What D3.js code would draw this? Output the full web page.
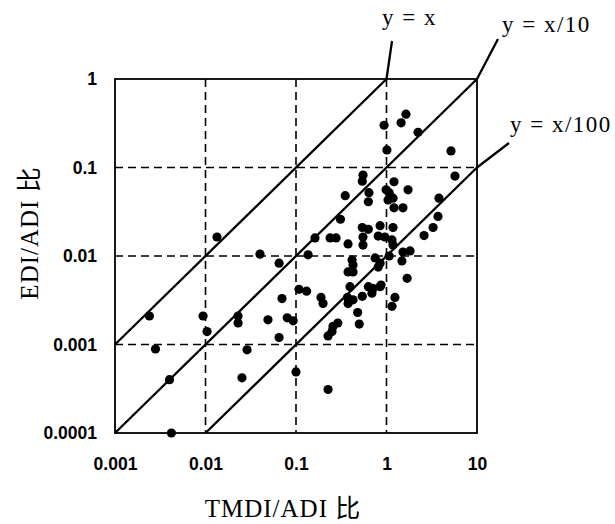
<!DOCTYPE html>
<html>
<head>
<meta charset="utf-8">
<script src="https://cdn.jsdelivr.net/npm/d3@7"></script>
<style>
  body { margin: 0; background: #fff; }
  svg { display: block; }
</style>
</head>
<body>
<div id="chart"></div>
<script>
// TMDI/ADI ratio (x) vs EDI/ADI ratio (y)
const tmdi = [
  1.64, 1.45, 0.94, 2.23, 1.01, 5.16, 5.71, 0.55, 0.54, 1.21,
  1.73, 0.35, 0.64, 0.63, 0.99, 1.07, 1.04, 1.18, 1.21, 1.52,
  3.80, 0.31, 3.71, 3.27, 2.60, 0.54, 0.63, 0.55, 0.85, 1.18,
  0.81, 0.96, 1.15, 1.18, 0.162, 0.238, 0.277, 0.376, 0.55, 0.0134,
  0.040, 0.136, 0.065, 0.416, 0.427, 0.376, 0.427, 0.75, 0.85, 1.07,
  1.52, 1.82, 1.48, 0.81, 1.69, 0.87, 0.108, 0.131, 0.395, 0.63,
  0.71, 0.85, 0.070, 0.189, 0.199, 0.37, 0.427, 0.54, 0.376, 0.69,
  1.24, 1.15, 0.48, 0.50, 0.29, 0.256, 0.25, 0.226, 0.0024, 0.0094,
  0.0104, 0.0229, 0.0229, 0.049, 0.080, 0.093, 0.065, 0.0028, 0.0288, 0.0040,
  0.0253, 0.100, 0.226, 0.0042
];
const edi = [
  0.40, 0.32, 0.30, 0.25, 0.158, 0.154, 0.080, 0.082, 0.070, 0.069,
  0.056, 0.048, 0.052, 0.041, 0.056, 0.052, 0.043, 0.045, 0.035, 0.035,
  0.045, 0.026, 0.028, 0.021, 0.017, 0.021, 0.020, 0.0164, 0.022, 0.021,
  0.0168, 0.0164, 0.0152, 0.0133, 0.0160, 0.0160, 0.0160, 0.0137, 0.0133, 0.0164,
  0.0105, 0.0103, 0.0083, 0.0090, 0.0079, 0.0066, 0.0066, 0.0095, 0.0083, 0.0100,
  0.0111, 0.0114, 0.0088, 0.0075, 0.0056, 0.0047, 0.0042, 0.0040, 0.0045, 0.0045,
  0.0043, 0.0045, 0.0033, 0.0034, 0.0029, 0.0034, 0.0032, 0.0035, 0.0029, 0.0038,
  0.0034, 0.0027, 0.0023, 0.0017, 0.00175, 0.0016, 0.0014, 0.00125, 0.0021, 0.0021,
  0.0014, 0.0021, 0.00175, 0.0019, 0.0020, 0.00185, 0.0012, 0.00089, 0.00087, 0.0004,
  0.00042, 0.00049, 0.00031, 0.0001
];

const xTicks = [0.001, 0.01, 0.1, 1, 10];
const xTickLabels = ["0.001", "0.01", "0.1", "1", "10"];
const yTicks = [0.0001, 0.001, 0.01, 0.1, 1];
const yTickLabels = ["0.0001", "0.001", "0.01", "0.1", "1"];

// reference lines y = k * x
const ratios = [1, 0.1, 0.01];
const ratioLabels = ["y = x", "y = x/10", "y = x/100"];

const data = tmdi.map((t, i) => ({ x: t, y: edi[i] }));

const margin = { top: 79, right: 138, bottom: 91, left: 115 };
const width = 615 - margin.left - margin.right;
const height = 524 - margin.top - margin.bottom;

const root = d3.select("#chart")
  .append("svg")
  .attr("width", 615)
  .attr("height", 524);

const svg = root.append("g")
  .attr("transform", `translate(${margin.left},${margin.top})`);

const x = d3.scaleLog()
  .domain([0.001, 10])
  .range([0, width]);

const y = d3.scaleLog()
  .domain([0.0001, 1])
  .range([height, 0]);

// dashed grid
svg.append("g")
  .selectAll("line")
  .data(xTicks.slice(1, -1))
  .enter()
  .append("line")
  .attr("x1", d => x(d)).attr("x2", d => x(d))
  .attr("y1", 0).attr("y2", height)
  .attr("stroke", "#000")
  .attr("stroke-width", 1.6)
  .attr("stroke-dasharray", "8,5");

svg.append("g")
  .selectAll("line")
  .data(yTicks.slice(1, -1))
  .enter()
  .append("line")
  .attr("x1", 0).attr("x2", width)
  .attr("y1", d => y(d)).attr("y2", d => y(d))
  .attr("stroke", "#000")
  .attr("stroke-width", 1.6)
  .attr("stroke-dasharray", "8,5");

// frame
svg.append("rect")
  .attr("width", width)
  .attr("height", height)
  .attr("fill", "none")
  .attr("stroke", "#000")
  .attr("stroke-width", 1.8);

// Axes (labels only)
const tickFont = "'Liberation Sans', Arial, sans-serif";

const xAxis = svg.append("g")
  .attr("transform", `translate(0,${height})`)
  .call(d3.axisBottom(x).tickValues(xTicks)
    .tickFormat((d, i) => xTickLabels[i]).tickSize(0).tickPadding(25));

const yAxis = svg.append("g")
  .call(d3.axisLeft(y).tickValues(yTicks)
    .tickFormat((d, i) => yTickLabels[i]).tickSize(0).tickPadding(18));

[xAxis, yAxis].forEach(a => {
  a.select(".domain").remove();
  a.selectAll("text")
    .attr("fill", "#000")
    .style("font-family", tickFont)
    .style("font-weight", "bold")
    .style("font-size", "17.5px");
});

// reference lines
const [xMin, xMax] = x.domain();
const [yMin, yMax] = y.domain();
const ends = ratios.map(k => {
  const x0 = Math.max(xMin, yMin / k);
  const x1 = Math.min(xMax, yMax / k);
  return [[x0, k * x0], [x1, k * x1]];
});

svg.selectAll("line.ref")
  .data(ends)
  .enter()
  .append("line")
  .attr("class", "ref")
  .attr("x1", d => x(d[0][0])).attr("y1", d => y(d[0][1]))
  .attr("x2", d => x(d[1][0])).attr("y2", d => y(d[1][1]))
  .attr("stroke", "#000")
  .attr("stroke-width", 2.3);

// leaders + labels (positions in page pixels)
const leaderEnds = [[392, 41], [498, 39], [509, 143]];
const labelAt = [[382, 25], [502, 32], [510, 132]];
const serif = "'Liberation Serif', 'Times New Roman', 'Noto Sans CJK SC', serif";

ends.forEach((e, i) => {
  root.append("line")
    .attr("x1", margin.left + x(e[1][0]))
    .attr("y1", margin.top + y(e[1][1]))
    .attr("x2", leaderEnds[i][0])
    .attr("y2", leaderEnds[i][1])
    .attr("stroke", "#000")
    .attr("stroke-width", 2.3);

  root.append("text")
    .attr("x", labelAt[i][0])
    .attr("y", labelAt[i][1])
    .text(ratioLabels[i])
    .style("font-family", serif)
    .style("font-size", "23px")
    .style("letter-spacing", "1.5px");
});

// points
svg.selectAll("circle")
  .data(data)
  .enter()
  .append("circle")
  .attr("cx", d => x(d.x))
  .attr("cy", d => y(d.y))
  .attr("r", 4.6)
  .attr("fill", "#000");

// Axis Labels
root.append("text")
  .attr("text-anchor", "middle")
  .attr("x", 283)
  .attr("y", 517)
  .text("TMDI/ADI 比")
  .style("font-family", serif)
  .style("font-size", "25px")
  .style("letter-spacing", "1px");

root.append("text")
  .attr("text-anchor", "middle")
  .attr("transform", "rotate(-90)")
  .attr("x", -233)
  .attr("y", 38)
  .text("EDI/ADI 比")
  .style("font-family", serif)
  .style("font-size", "25px")
  .style("letter-spacing", "1px");
</script>
</body>
</html>
